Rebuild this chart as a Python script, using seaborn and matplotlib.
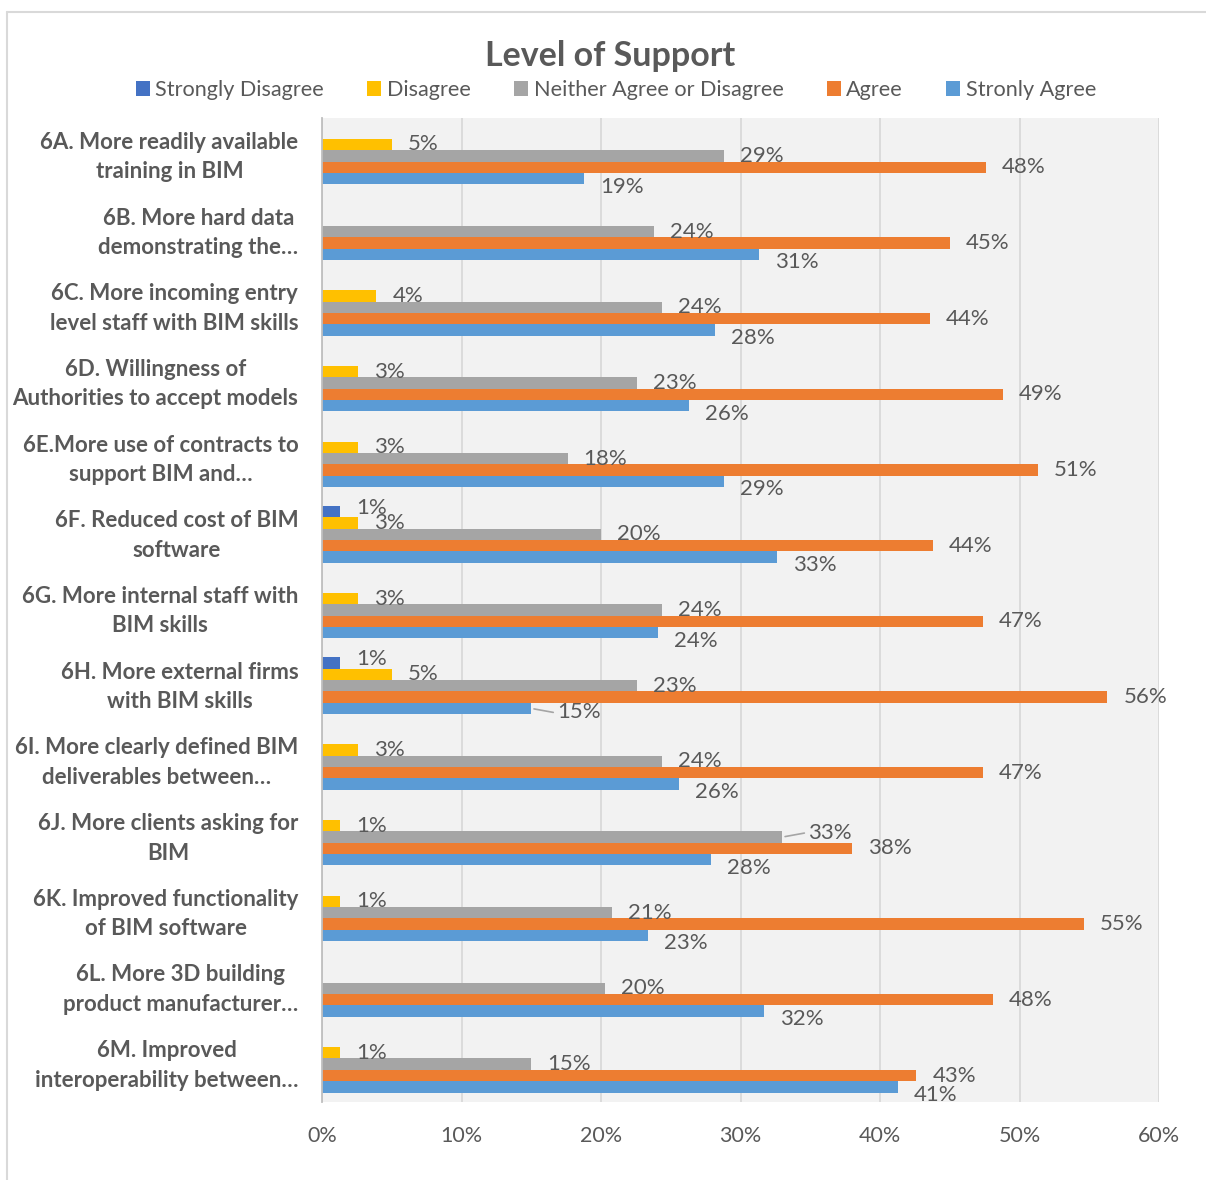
import matplotlib
matplotlib.use("Agg")
import matplotlib.pyplot as plt
import matplotlib.transforms as mtransforms
import seaborn as sns
import pandas as pd
from matplotlib.ticker import FuncFormatter
from matplotlib.patches import Patch
from matplotlib.lines import Line2D

# ---------------- data ----------------
categories = [
    "6A. More readily available\ntraining in BIM",
    "6B. More hard data\ndemonstrating the…",
    "6C. More incoming entry\nlevel staff with BIM skills",
    "6D. Willingness of\nAuthorities to accept models",
    "6E.More use of contracts to\nsupport BIM and…",
    "6F. Reduced cost of BIM\nsoftware",
    "6G. More internal staff with\nBIM skills",
    "6H. More external firms\nwith BIM skills",
    "6I. More clearly defined BIM\ndeliverables between…",
    "6J. More clients asking for\nBIM",
    "6K. Improved functionality\nof BIM software",
    "6L. More 3D building\nproduct manufacturer…",
    "6M. Improved\ninteroperability between…",
]
levels = ["Strongly Disagree", "Disagree", "Neither Agree or Disagree", "Agree", "Stronly Agree"]

strongly_disagree = [0, 0, 0, 0, 0, 1.27, 0, 1.27, 0, 0, 0, 0, 0]
disagree = [5.0, 0, 3.9, 2.6, 2.6, 2.6, 2.6, 5.0, 2.6, 1.27, 1.27, 0, 1.27]
neither = [28.8, 23.8, 24.4, 22.6, 17.6, 20.0, 24.4, 22.6, 24.4, 33.0, 20.8, 20.3, 15.0]
agree = [47.6, 45.0, 43.6, 48.8, 51.3, 43.8, 47.4, 56.3, 47.4, 38.0, 54.6, 48.1, 42.6]
strongly_agree = [18.8, 31.3, 28.2, 26.3, 28.8, 32.6, 24.1, 15.0, 25.6, 27.9, 23.4, 31.7, 41.3]

x_ticks = [0, 10, 20, 30, 40, 50, 60]

# labels that Excel drew with a leader line (category index, level)
leader_labels = [(7, "Stronly Agree"), (9, "Neither Agree or Disagree")]

colors = {
    "Strongly Disagree": "#4472C4",
    "Disagree": "#FFC000",
    "Neither Agree or Disagree": "#A5A5A5",
    "Agree": "#ED7D31",
    "Stronly Agree": "#5B9BD5",
}

series = [strongly_disagree, disagree, neither, agree, strongly_agree]
rows = []
for lvl, vals in zip(levels, series):
    for cat, v in zip(categories, vals):
        rows.append({"category": cat, "level": lvl, "value": v})
df = pd.DataFrame(rows)

# ---------------- style ----------------
sns.set_theme(style="white")
plt.rcParams["font.family"] = ["Lato", "DejaVu Sans"]
TXT = "#595959"

W, H = 1206, 1180
fig = plt.figure(figsize=(W / 100, H / 100), dpi=100)
ax = fig.add_axes([322 / W, 1 - 1102 / H, (1159 - 322) / W, (1102 - 118) / H])
ax.set_facecolor("#F2F2F2")

sns.barplot(
    data=df, x="value", y="category", hue="level", order=categories,
    hue_order=levels, palette=colors, orient="h", width=0.75,
    linewidth=0, saturation=1, ax=ax, legend=False, errorbar=None,
)

ax.set_xlim(0, 60)
ax.set_ylim(len(categories) - 0.5, -0.5)
ax.set_xticks(x_ticks)
ax.xaxis.set_major_formatter(FuncFormatter(lambda v, p: f"{v:.0f}%"))
ax.grid(axis="x", color="#D9D9D9", linewidth=1.3)
ax.set_axisbelow(True)
ax.set_xlabel("")
ax.set_ylabel("")
for s in ["top", "right", "bottom"]:
    ax.spines[s].set_visible(False)
ax.spines["left"].set_color("#BFBFBF")
ax.spines["left"].set_linewidth(1.3)

ax.tick_params(axis="x", length=0, pad=17, labelsize=15.5, labelcolor=TXT)
ax.tick_params(axis="y", length=0, pad=17, labelsize=16, labelcolor=TXT)
shift_up = mtransforms.ScaledTranslation(0, 5 / 100, fig.dpi_scale_trans)
for t in ax.get_yticklabels():
    t.set_fontweight("bold")
    t.set_multialignment("center")
    t.set_linespacing(1.5)
    t.set_transform(t.get_transform() + shift_up)

# data labels
for lvl, cont in zip(levels, ax.containers):
    for i, bar in enumerate(cont):
        w = bar.get_width()
        if w <= 0:
            continue
        yc = bar.get_y() + bar.get_height() / 2
        if lvl == "Stronly Agree":
            dy = -8
        elif lvl == "Strongly Disagree":
            dy = 4
        else:
            dy = 0
        dx = 16
        if (i, lvl) in leader_labels:
            dx = 26
            dy = -4 if lvl == "Stronly Agree" else 4
            ax.annotate("", xy=(w, yc), xytext=(22, dy),
                        textcoords="offset pixels",
                        arrowprops=dict(arrowstyle="-", color="#A5A5A5", lw=1.2,
                                        shrinkA=0, shrinkB=2))
        ax.annotate(f"{w:.0f}%", xy=(w, yc), xytext=(dx, dy),
                    textcoords="offset pixels", ha="left", va="center",
                    fontsize=16, color=TXT)

# title & legend
fig.text(610 / W, 1 - 56 / H, "Level of Support", ha="center", va="center",
         fontsize=24.5, fontweight="bold", color=TXT)
handles = [Patch(facecolor=colors[l], edgecolor="none") for l in levels]
fig.legend(handles, levels, loc="center", bbox_to_anchor=(616 / W, 1 - 90 / H),
           ncol=5, frameon=False, fontsize=15.6, handlelength=0.65, handleheight=0.65,
           handletextpad=0.25, columnspacing=2.0, labelcolor=TXT)

# outer chart border
fig.add_artist(Line2D([7 / W, 7 / W], [0, 1 - 12 / H], transform=fig.transFigure,
                      color="#D9D9D9", linewidth=1.5))
fig.add_artist(Line2D([7 / W, 1], [1 - 12 / H, 1 - 12 / H], transform=fig.transFigure,
                      color="#D9D9D9", linewidth=1.5))

fig.savefig("out.png", dpi=100, facecolor="white")
